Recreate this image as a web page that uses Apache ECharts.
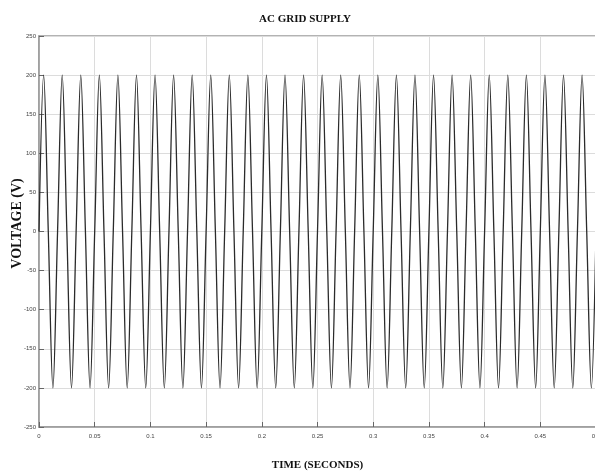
<!DOCTYPE html>
<html>
<head>
<meta charset="utf-8">
<script src="https://cdn.jsdelivr.net/npm/echarts@6/dist/echarts.min.js"></script>
<style>
html,body{margin:0;padding:0;background:#fff;}
#chart{width:595px;height:476px;}
</style>
</head>
<body>
<div id="chart"></div>
<script>
// Sample instants (seconds): zero crossings, peaks and troughs
var timeValues = [
  0, 0.00417, 0.00833, 0.0125, 0.01667, 0.02083, 0.025, 0.02917, 0.03333, 0.0375, 0.04167, 0.04583,
  0.05, 0.05417, 0.05833, 0.0625, 0.06667, 0.07083, 0.075, 0.07917, 0.08333, 0.0875, 0.09167, 0.09583,
  0.1, 0.10417, 0.10833, 0.1125, 0.11667, 0.12083, 0.125, 0.12917, 0.13333, 0.1375, 0.14167, 0.14583,
  0.15, 0.15417, 0.15833, 0.1625, 0.16667, 0.17083, 0.175, 0.17917, 0.18333, 0.1875, 0.19167, 0.19583,
  0.2, 0.20417, 0.20833, 0.2125, 0.21667, 0.22083, 0.225, 0.22917, 0.23333, 0.2375, 0.24167, 0.24583,
  0.25, 0.25417, 0.25833, 0.2625, 0.26667, 0.27083, 0.275, 0.27917, 0.28333, 0.2875, 0.29167, 0.29583,
  0.3, 0.30417, 0.30833, 0.3125, 0.31667, 0.32083, 0.325, 0.32917, 0.33333, 0.3375, 0.34167, 0.34583,
  0.35, 0.35417, 0.35833, 0.3625, 0.36667, 0.37083, 0.375, 0.37917, 0.38333, 0.3875, 0.39167, 0.39583,
  0.4, 0.40417, 0.40833, 0.4125, 0.41667, 0.42083, 0.425, 0.42917, 0.43333, 0.4375, 0.44167, 0.44583,
  0.45, 0.45417, 0.45833, 0.4625, 0.46667, 0.47083, 0.475, 0.47917, 0.48333, 0.4875, 0.49167, 0.49583,
  0.5
];
// Voltage (V) at those instants
var voltageValues = [
  0, 200, 0, -200, 0, 200, 0, -200, 0, 200, 0, -200,
  0, 200, 0, -200, 0, 200, 0, -200, 0, 200, 0, -200,
  0, 200, 0, -200, 0, 200, 0, -200, 0, 200, 0, -200,
  0, 200, 0, -200, 0, 200, 0, -200, 0, 200, 0, -200,
  0, 200, 0, -200, 0, 200, 0, -200, 0, 200, 0, -200,
  0, 200, 0, -200, 0, 200, 0, -200, 0, 200, 0, -200,
  0, 200, 0, -200, 0, 200, 0, -200, 0, 200, 0, -200,
  0, 200, 0, -200, 0, 200, 0, -200, 0, 200, 0, -200,
  0, 200, 0, -200, 0, 200, 0, -200, 0, 200, 0, -200,
  0, 200, 0, -200, 0, 200, 0, -200, 0, 200, 0, -200,
  0
];
var xTickLabels = ['0', '0.05', '0.1', '0.15', '0.2', '0.25', '0.3', '0.35', '0.4', '0.45', '0.5'];
var yTickLabels = ['-250', '-200', '-150', '-100', '-50', '0', '50', '100', '150', '200', '250'];

var seriesData = timeValues.map(function (t, i) { return [t, voltageValues[i]]; });

var chart = echarts.init(document.getElementById('chart'), null, {renderer: 'canvas'});
var serif = '"Liberation Serif", "Times New Roman", serif';
var tickFont = '"Liberation Sans Narrow", "Liberation Sans", Arial, sans-serif';

chart.setOption({
  animation: false,
  backgroundColor: '#ffffff',
  title: {
    text: 'AC GRID SUPPLY',
    left: 300, top: 9,
    textAlign: 'center',
    textStyle: {fontFamily: serif, fontWeight: 'bold', fontSize: 11, color: '#111'}
  },
  grid: {
    left: 39, right: -1, top: 36, bottom: 49,
    containLabel: false, outerBoundsMode: 'none',
    show: true, borderColor: '#9a9a9a', borderWidth: 1.5
  },
  xAxis: {
    type: 'value', min: 0, max: 0.5, interval: 0.05,
    name: 'TIME (SECONDS)', nameLocation: 'middle', nameGap: 33, nameMoveOverlap: false,
    nameTextStyle: {fontFamily: serif, fontWeight: 'bold', fontSize: 11, color: '#111'},
    axisLine: {show: true, onZero: false, lineStyle: {color: '#9a9a9a', width: 1.5}},
    axisTick: {show: true, inside: true, length: 5, lineStyle: {color: '#666'}},
    axisLabel: {
      fontFamily: tickFont, fontSize: 6, color: '#444', margin: 6,
      formatter: function (v) { return xTickLabels[Math.round(v / 0.05)]; }
    },
    splitLine: {show: true, lineStyle: {color: '#dcdcdc', width: 1}}
  },
  yAxis: {
    type: 'value', min: -250, max: 250, interval: 50,
    name: 'VOLTAGE (V)', nameLocation: 'middle', nameGap: 15, nameMoveOverlap: false,
    nameTextStyle: {fontFamily: serif, fontWeight: 'bold', fontSize: 14, color: '#111', padding: [0, 0, 0, 16]},
    axisLine: {show: true, onZero: false, lineStyle: {color: '#9a9a9a', width: 1.5}},
    axisTick: {show: true, inside: true, length: 5, lineStyle: {color: '#666'}},
    axisLabel: {
      fontFamily: tickFont, fontSize: 6, color: '#444', margin: 3,
      formatter: function (v) { return yTickLabels[Math.round((v + 250) / 50)]; }
    },
    splitLine: {show: true, lineStyle: {color: '#dcdcdc', width: 1}}
  },
  series: [{
    type: 'line',
    data: seriesData,
    showSymbol: false,
    smooth: 0.35,
    lineStyle: {color: '#2b2b2b', width: 1.3},
    clip: true
  }]
});
</script>
</body>
</html>
